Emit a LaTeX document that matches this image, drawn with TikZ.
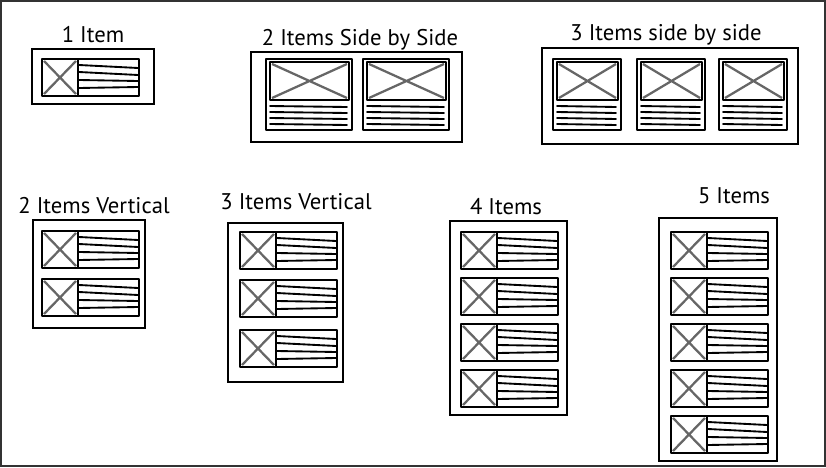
\documentclass[tikz,border=0pt]{standalone}
\usepackage{fontspec}
\setmainfont{PT Sans}
\tikzset{
  px/.style={x=0.75pt, y=-0.75pt},
  l title/.style={font=\fontsize{17}{20}\selectfont, anchor=base, inner sep=0pt},
  l frame/.style={draw=black!80, line width=1.5pt},
  l panel/.style={draw=black, line width=0.8pt},
  item edge/.style={draw=black, line width=1.6pt, line join=round},
  card edge/.style={draw=black, line width=2pt, line join=round},
  img x/.style={draw=black!60, line width=1.7pt},
  item line/.style={draw=black, line width=1.4pt, line cap=round},
  % list row: picture left, text lines right
  pics/row item/.style={code={
    \draw[item edge] (0,0) rectangle (97,37);
    \draw[img x] (2,2) -- (34,35) (2,35) -- (34,2);
    \draw[item edge] (36,0) -- (36,37);
    \draw[item line] (37,6) -- (96,9) (37,13) -- (96,16) (37,21) -- (96,22) (37,29) -- (96,28);
  }},
  % card: picture on top, text lines below
  pics/card/.style={code={
    \draw[card edge] (0,0) rectangle (#1,71);
    \draw[card edge] (4,3) rectangle (#1-3,41);
    \draw[img x] (6,5) -- (#1-5,39) (6,39) -- (#1-5,5);
    \foreach \ly in {47,53,59,65} \draw[item line] (4,\ly) -- (#1-5,\ly+1);
  }},
}
\begin{document}
\begin{tikzpicture}[px]
\useasboundingbox (0,0) rectangle (826,468);
\draw[l frame] (1,1) rectangle (825,466);
% ---- top row ----
\node[l title] (t1) at (93,42) {1 Item};
\draw[l panel] (32,49) rectangle (154,104);
\pic at (42,59) {row item};
\node[l title] (t2) at (360,45) {2 Items Side by Side};
\draw[l panel] (251,52) rectangle (462,142);
\foreach \cx in {266,363} \pic at (\cx,59) {card=86};
\node[l title] (t3) at (666,40) {3 Items side by side};
\draw[l panel] (542,48) rectangle (798,144);
\foreach \cx in {553,637,719} \pic at (\cx,59) {card=68};
% ---- bottom row ----
\node[l title] (t4) at (94,213) {2 Items Vertical};
\draw[l panel] (33,220) rectangle (145,328);
\foreach \cy in {231,279} \pic at (42,\cy) {row item};
\node[l title] (t5) at (296,209) {3 Items Vertical};
\draw[l panel] (228,223) rectangle (343,382);
\foreach \cy in {232,280,330} \pic at (240,\cy) {row item};
\node[l title] (t6) at (506,214) {4 Items};
\draw[l panel] (450,221) rectangle (567,415);
\foreach \cy in {232,278,324,370} \pic at (461,\cy) {row item};
\node[l title] (t7) at (734,203) {5 Items};
\draw[l panel] (659,218) rectangle (777,461);
\foreach \cy in {232,278,324,370,416} \pic at (671,\cy) {row item};
\end{tikzpicture}
\end{document}
